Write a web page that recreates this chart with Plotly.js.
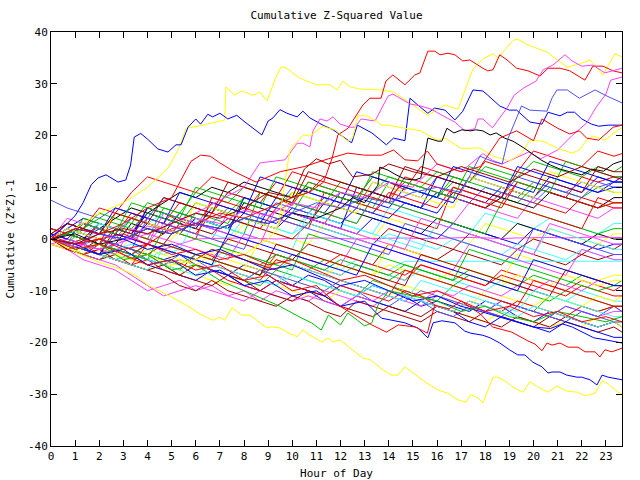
<!DOCTYPE html>
<html>
<head>
<meta charset="utf-8">
<script src="https://cdn.plot.ly/plotly-3.0.1.min.js"></script>
<style>html,body{margin:0;padding:0;background:#fff;}#chart{width:640px;height:480px;}</style>
</head>
<body>
<div id="chart"></div>
<script>
// ---- 40-minute grid used by the mid-band series ----
const grid = [0,0.667,1.333,2,2.667,3.333,4,4.667,5.333,6,6.667,7.333,8,8.667,9.333,10,10.667,11.333,12,12.667,13.333,14,14.667,15.333,16,16.667,17.333,18,18.667,19.333,20,20.667,21.333,22,22.667,23.333,23.667];
const xTickVals = [0,1,2,3,4,5,6,7,8,9,10,11,12,13,14,15,16,17,18,19,20,21,22,23];
const yTickVals = [-40,-30,-20,-10,0,10,20,30,40];

// ---- traced outlier series (hour, value) ----
const y1x = [0,1,2,3,4,4.85,5.3,5.6,6.1,7.2,7.25,7.6,7.9,8.37,8.66,8.95,9.3,9.53,9.7,10.3,10.73,11.0,11.56,11.85,12.1,12.4,12.8,13.67,14.2,14.88,15.62,16.33,16.87,17.49,17.9,18.32,18.52,19.15,19.35,19.73,20.56,21.1,21.4,21.9,22.34,22.88,23.37,23.667];
const y1v = [0,2,5,7,10,13.7,17.5,21.4,21.8,23.0,29.4,27.8,28.6,27.8,28.4,26.7,31,33.2,33.2,31.1,30.3,29.8,29.8,28.8,30.5,29.4,29.0,28.8,28.4,26.2,23.9,25.9,25.1,32.9,34.8,35.8,35.0,38.4,38.6,37.6,36.1,34.2,33.2,33.8,34.6,31.7,35.8,35.2];

const b1x = [0,0.33,0.67,1.0,1.33,1.67,1.95,2.28,2.78,3.1,3.3,3.45,3.72,4.0,4.43,4.85,5.18,5.39,5.68,6.0,6.2,6.5,6.7,7.0,7.33,7.7,8.04,8.74,9.0,9.2,9.49,9.78,10.2,10.44,10.73,11.27,11.69,11.98,12.46,12.7,13.3,13.9,14.2,14.67,14.88,15.2,15.62,15.9,16.33,16.74,17.07,17.49,17.9,18.1,18.6,19.0,19.3,19.85,20.35,20.6,21.1,21.4,21.7,22.0,22.4,22.7,23.1,23.667];
const b1v = [0.5,1.5,3,4.5,7,10.5,11.8,12.4,11.0,11.4,14.3,19.7,20.4,19.3,17.4,16.8,18.2,18.2,21.6,23.2,22.2,24.1,23.6,24.3,23.2,23.9,22.6,20.1,22.8,23.4,25.0,24.3,23.6,24.7,23.4,22.0,21.1,20.1,18.6,22.0,20.5,18.2,19.5,19.0,27.2,25.9,24.3,25.3,24.9,23.0,24.7,28.8,28.6,27.8,25.7,24.9,24.9,22.6,22.2,24.5,23.8,24.5,24.5,23.2,22.2,21.8,22.0,22.0];

const r1x = [0,1,2,3,4,5,6,7,8,9,10,10.7,11.3,11.65,11.89,12.31,12.72,12.93,13.22,13.68,13.88,14.17,14.67,15.08,15.29,15.62,15.91,16.12,16.45,16.74,17.07,17.36,17.9,18.1,18.32,18.6,18.9,19.3,19.77,20.27,20.6,21.1,21.5,22.13,22.46,22.88,23.29,23.667];
const r1v = [0.5,-1,0,1,-1,2,3,5,4,6,8,9,11,15.6,20.1,21.4,24.3,25.9,27.2,27.2,30.5,31.7,29.8,31.7,32.1,36.3,36.3,35.6,35.9,35.6,34.4,34.6,33.0,32.5,32.7,35.6,34.6,33.0,32.5,31.5,33.0,33.0,32.5,30.7,33.4,33.4,32.5,32.1];

const m1x = [0,2,4,6,8,8.66,9.7,9.99,10.2,10.44,10.73,10.86,11.15,11.44,11.69,11.98,12.4,12.6,12.85,13.43,13.97,14.17,14.67,14.88,15.33,15.75,16.33,16.74,17.15,17.57,17.7,17.9,18.3,18.9,19.2,19.6,20.1,20.4,20.8,21.3,21.6,22.0,22.46,22.96,23.667];
const m1v = [0,-2,1,5,10,14.7,15.3,17.2,18.5,18.5,17.8,20.9,23.2,22.8,23.6,22.2,21.6,21.6,23.2,22.8,27.6,28.0,26.7,26.1,25.7,25.1,23.6,22.6,20.9,21.3,23.2,23.2,21.5,25.3,27.8,29.2,30.5,32.7,33.6,35.6,34.4,33.4,33.6,32.1,33.0];

const m2x = [0,1,2,3,4,5,6,7,8,9,10,11,12,13,14,15,16,17,17.9,18.3,18.7,19.2,19.8,20.3,21,21.6,22.2,22.6,23.0,23.2,23.667];
const m2v = [0,-1.5,1,-0.5,2.5,1.5,4,3,5.5,4.5,7,6,9,8,11,10,14.5,13,16.5,15.2,14.5,15.5,16.8,15.5,17.2,20,22.4,25.5,28,30.7,31.3];

const y2x = [0,1,2,3,4,5,6,7,8,9,9.4,9.8,9.9,10.45,10.73,11.27,11.5,11.8,12.0,12.3,12.5,12.72,13.1,13.3,13.5,13.68,13.97,14.67,15.33,15.7,16.04,16.33,17.0,17.78,18.32,19.0,19.5,19.85,20.4,21.0,21.6,21.9,22.2,22.46,22.96,23.46,23.667];
const y2v = [0,-2,-1,-4,-3,-5,-4,-2,-3,0,2,13.7,17.2,20.1,19.9,21.8,21.4,21.1,20.1,18.9,19.5,23.8,23.8,23.2,22.8,22.0,22.0,21.4,20.9,19.9,19.1,19.5,17.5,17.6,16.0,15.1,16.5,19.1,18.9,17.5,16.6,17.2,19.1,19.9,19.1,20.9,21.5];

const k1x = [0,1,2,3,4,5,6,7,8,9,10,11,12,12.5,13.0,13.55,13.63,13.97,14.3,14.67,15.08,15.33,15.42,15.62,16.04,16.2,16.41,16.7,17.03,17.4,17.6,17.9,18.2,18.45,18.8,19.15,19.6,20.0,20.3,20.7,21.1,21.5,22.0,22.4,22.9,23.3,23.667];
const k1v = [0,1,-1,0,2,1,3,2,4,3,5,4,6,8,7,10.4,13.9,13.3,12.4,11.6,11.4,11.8,14.3,19.5,18.9,18.9,21.4,20.5,21.1,20.9,21.1,20.9,20.1,20.5,19.5,18.9,17.6,16.2,15.3,14.3,13.5,13.0,12.4,13.5,13.1,14.5,15.1];

const y3x = [0,1,2,3,3.5,4.0,5.0,5.8,6.1,6.5,6.7,7.0,7.2,7.5,7.9,8.25,8.95,9.15,9.49,9.82,10.2,10.44,10.73,11.23,11.48,11.69,11.98,12.4,12.93,13.26,13.68,14.1,14.38,14.67,15.0,15.5,16.04,16.45,16.87,17.2,17.4,17.7,17.9,18.32,18.52,18.81,19.15,19.56,19.85,20.18,20.6,20.97,21.38,21.84,22.13,22.55,22.84,23.09,23.5,23.667];
const y3v = [0,-2.5,-4.5,-6,-7,-8.9,-11.2,-13.3,-14.3,-15.3,-15.7,-15.1,-15.7,-13.3,-14.7,-14.7,-17.2,-17.0,-17.2,-18.1,-18.9,-17.6,-18.6,-19.9,-19.1,-19.9,-19.5,-21.1,-23.0,-23.4,-25.0,-26.3,-26.3,-24.7,-25.9,-27.6,-29.2,-29.8,-31.1,-31.5,-30.1,-30.7,-31.7,-26.7,-26.7,-27.4,-28.6,-29.6,-27.6,-28.6,-29.6,-28.4,-29.4,-29.6,-30.3,-29.8,-27.4,-28.0,-29.6,-29.9];

const b2x = [0,1,2,3,4,5,6,7,8,9,10,11,12,13,13.7,14.67,15.2,15.62,15.84,16.2,16.74,17.15,17.4,17.9,18.2,18.6,19.0,19.35,19.64,19.97,20.35,20.6,20.76,21.1,21.38,21.8,22.0,22.34,22.63,22.84,23.09,23.667];
const b2v = [0,-1,-3,-2,-5,-4,-7,-6,-9,-8,-11,-10,-13,-12,-15.3,-16.2,-17.2,-19.1,-16.2,-15.8,-16.2,-17.8,-18.2,-18.6,-19.1,-20.1,-21.4,-22.4,-22.4,-23.8,-24.7,-25.9,-25.7,-25.7,-26.3,-26.7,-26.7,-27.2,-28.2,-26.3,-26.7,-27.2];

const r2x = [0,1,2,3,4,5,6,7,8,9,10,11,12,13,14,15,16,17,17.8,18.3,19.1,19.4,19.77,20.06,20.35,20.56,20.76,21.1,21.43,21.84,22.13,22.55,22.75,22.96,23.25,23.667];
const r2v = [0,-1,0,-2,-1,-3,-2,-4,-3,-5,-4,-6,-8,-7,-9,-11,-10,-12,-14.5,-17,-18.0,-18.8,-19.7,-20.3,-21.6,-20.1,-20.5,-20.1,-20.9,-20.9,-21.8,-21.8,-22.8,-21.4,-21.8,-21.1];

const b3x = [0,1,2,3,4,5,6,7,8,9,10,11,12,13,14,15,16,17,17.8,18.5,19.3,20.0,20.7,21.2,21.6,22.0,22.5,23.0,23.667];
const b3v = [0,2,1,0,-2,-1,-3,-2,-4,-6,-5,-7,-9,-8,-10,-12,-11,-13,-14,-15,-16,-17,-17.3,-16.4,-17,-18,-19.1,-19.5,-20.1];

const g1x = [0,1,2,3,4,5,6,7,8,9.4,10.4,10.8,11.2,11.5,12.0,12.3,12.7,13.0,13.3,13.55,14,15,16,17,18,19,20,21,22,23,23.667];
const g1v = [0,-2,-1,-4,-3,-6,-5,-8,-10,-12.8,-15.3,-16.2,-17.6,-14.7,-16.6,-14.3,-15.7,-16.8,-16.2,-12.8,-10,-11,-12,-14,-13,-15,-16,-14,-15,-16,-15];

const r4x = [0,1,2,3,4,5,5.8,6.2,6.6,7,7.6,8.5,9.5,10.5,11.5,12.3,13,13.7,14.2,14.67,15.2,15.6,16,17,17.8,18.6,19.3,20,20.35,21,21.5,21.9,22.2,22.7,23.3,23.667];
const r4v = [0,2,1,3,6,8,15,16.2,16,14.7,13,11,13,14,15.5,16.6,16.2,16.2,17.2,15.3,15.1,17,14.5,13,14,19.5,20.9,19,23.2,21.4,20.3,20.9,19.5,19.1,21.6,22.0];

const lb1x = [0,1,2,3,4,5,6,7,8,9,10,11,12,13,14,15,16,17,17.78,18.3,18.7,18.95,19.3,19.5,19.85,20.56,20.76,20.97,21.4,21.9,22.55,23.05,23.667];
const lb1v = [0,-1,1,0,2,1,3,2,4,3,5,7,6,8,7,9,10,9,16,15,14.5,19.5,23.4,25.7,24.9,24.7,27.2,28.8,28.8,27.2,28.8,27.6,26.3];

const dr1x = [0,1,2,3,4,5,6,7,8,9,10,10.5,11,11.5,12,12.5,13.3,14,15,16,17,18,19,20,21,22,23,23.667];
const dr1v = [0,-1,1,2,1,3,5,4,6,9,8,13.5,15.5,14.5,15.2,12,12.5,14.5,13,12,14,12.5,11,13.5,12,14,12.5,11.5];

const r3x = [0,1,2,3,4,5,6,7,8,9,10,11,11.9,13.3,13.9,14.4,15.1,15.6,15.9,16.5,17,18,19,20,21,22,23,23.667];
const r3v = [0,-2,-1,-3,-5,-4,-6,-5,-8,-7,-10,-9,-12.8,-16.6,-18,-16.6,-17,-18.2,-12.8,-13.5,-12,-14,-13,-15,-14,-16,-15,-16];

// ---- mid-band series, values at each entry of `grid` ----
const a01 = [1,0,-1,3,2,1,6,5,3.5,2.5,7,6,5,9,8,6.5,11,10,9,8,12,11,9.5,14,13,12,11,15,14,13,17,16,15,14,17,16,16.5];
const a02 = [0,-1,2,1,0,4,3,2,1,5,4,3,8,7,6,5,10,9,8,7,6,11,10,9,8,12,11,10,9,8,11,10,9,8,10,9,9];
const a03 = [2,1,0,3,2,1,5,4,3,2,6,5,4,3,8,7,6,5,9,8,7,6,10,9,8,7,12,11,10,9,8,12,11,10,9,11,11];
const a04 = [-1,0,-1,-2,1,0,-1,3,2,1,0,5,4,3,2,7,6,5,4,3,8,7,6,5,4,3,7,6,5,4,8,7,6,5,4,6,6];
const a05 = [0,1,0,-1,2,1,0,-1,3,2,1,0,4,3,2,1,5,4,3,2,1,6,5,4,3,2,1,5,4,3,2,4,3,2,1,3,3];
const a06 = [1,0,-1,-2,1,0,-1,-2,2,1,0,-1,3,2,1,0,-1,3,2,1,0,4,3,2,1,0,-1,3,2,1,0,2,1,0,-1,1,1];
const a07 = [0,2,1,0,-1,3,2,1,5,4,3,2,7,6,5,4,3,7,6,5,4,3,2,1,4,3,2,1,0,3,2,1,0,-1,1,0,0];
const a08 = [0,-1,-2,0,-1,-2,-3,-1,-2,-3,-4,0,-1,-2,-3,-4,-1,-2,-3,-4,-5,-1,-2,-3,-4,-2,-3,-4,-5,-2,-3,-4,-5,-3,-4,-3,-3];
const a09 = [7.5,6,5,4,6,5,4,8,7,6,5,9,8,7,6,10,9,8,7,6,11,10,9,8,12,11,10,9,8,12,11,10,9,8,11,10,10];
const a10 = [-1,-2,-3,-1,-2,-4,-3,-5,-6,-3,-4,-5,-6,-7,-3,-4,-5,-6,-7,-5,-6,-7,-8,-5,-6,-7,-8,-9,-6,-7,-8,-9,-10,-8,-9,-10,-9];
const a11 = [0,-1,-3,-4,-2,-3,-4,-5,-7,-5,-6,-7,-8,-9,-6,-7,-8,-9,-10,-11,-8,-9,-10,-11,-12,-9,-10,-11,-12,-13,-14,-11,-12,-13,-14,-13,-13];
const a12 = [1,0,-1,-2,-1,-2,-3,-4,-3,-5,-6,-7,-5,-6,-8,-9,-7,-8,-10,-11,-9,-10,-11,-13,-12,-13,-14,-12,-13,-15,-16,-14,-15,-16,-17,-16,-17];
const a13 = [-1,-2,-4,-5,-6,-8,-10,-9,-8,-10,-9,-11,-10,-12,-10,-11,-12,-10,-11,-12,-13,-11,-12,-13,-11,-12,-13,-14,-12,-13,-14,-15,-13,-14,-15,-14,-14];
const a14 = [0,-1,-2,-1,-2,-3,-4,-2,-3,-4,-5,-3,-4,-5,-6,-4,-5,-6,-7,-5,-6,-7,-8,-6,-7,-8,-9,-10,-8,-9,-10,-11,-12,-10,-11,-12,-12];
const a15 = [0,-1,-2,-3,-4,-5,-6,-5,-6,-7,-8,-9,-7,-8,-9,-10,-11,-12,-10,-11,-12,-13,-14,-12,-13,-14,-15,-16,-14,-15,-16,-17,-16,-17,-15,-16,-17];
const a16 = [0,-1,-2,-3,-1,-2,-3,-4,-5,-3,-4,-5,-6,-7,-4,-5,-6,-4,-5,-6,-7,-8,-6,-7,-8,-9,-7,-8,-9,-10,-11,-12,-10,-11,-12,-13,-14];
const a17 = [0,-2,-3,-4,-3,-5,-6,-7,-9,-10,-8,-10,-11,-12,-13,-11,-12,-14,-15,-12,-13,-14,-15,-16,-14,-15,-16,-14,-15,-16,-17,-15,-16,-17,-18,-17,-18];
const a18 = [1,0,-1,0,-1,-2,-4,-5,-3,-4,-6,-7,-8,-6,-7,-9,-10,-11,-9,-10,-12,-13,-11,-12,-14,-15,-13,-14,-15,-13,-14,-15,-16,-14,-15,-16,-16];
const a19 = [2,1,0,3,2,1,4,3,2,1,5,4,3,2,6,5,4,3,7,6,5,9,8,7,6,10,9,8,7,11,10,9,8,12,11,12,12];
const a20 = [1,3,2,5,4,3,7,6,5,9,8,7,10,9,8,7,11,10,9,8,12,11,10,9,8,11,10,9,8,7,10,9,8,7,6,7,7];
const a21 = [0,2,4,3,2,1,5,4,3,2,6,5,4,3,2,5,4,3,2,1,4,3,2,1,0,3,2,1,0,-1,2,1,0,-1,-2,-1,-1];
const a22 = [0,-1,-2,-1,-2,-3,-1,-2,-1,0,0.1,0.2,0.2,0.1,0,0.1,0.2,0.2,0.1,0,0.1,0.2,0.2,0.1,0.1,0.2,0.3,0.2,0.1,0.2,0.3,0.3,0.2,0.3,0.4,0.3,0.3];
const a23 = [0,-1,0,-1,-2,-1,-2,-3,-2,-3,-4,-2,-3,-4,-5,-3,-4,-5,-6,-4,-5,-6,-4.3,-4.3,-4.3,-4.4,-4.4,-4.4,-4.4,-4.4,-4.4,-4.4,-4.4,-4.3,-4.3,-4.3,-4.3];
const a24 = [-1,-2,-3,-2,-3,-4,-5,-6,-4,-5,-6,-7,-8,-6,-7,-8,-9,-10,-8,-9,-10,-11,-9,-10,-11,-12,-13,-10,-11,-12,-13,-11,-12,-13,-11,-12,-11];
const a25 = [0,1,3,2,4,6,5,7,9,8,10,9,11,10,9,8,10,9,8,7,9,8,7,6,9,8,7,6,8,7,6,9,8,7,6,8,8];
const a26 = [0,1,0,-1,2,1,0,-1,3,2,1,4,3,2,1,0,3,2,1,0,-1,2,1,0,-1,-2,1,0,-1,-2,0,-1,-2,-3,-1,-2,-1];
const a27 = [0,-1,-2,-3,-2,-3,-4,-5,-4,-5,-6,-7,-8,-6,-7,-8,-9,-10,-8,-9,-10,-11,-12,-10,-11,-12,-13,-14,-12,-13,-14,-15,-13,-14,-15,-13,-14];
const a28 = [0,1,3,2,1,5,4,3,7,6,5,9,8,7,11,10,9,12,11,10,9,8,11,10,9,8,7,6,9,8,7,6,5,8,7,6,6];
const a29 = [0,-1,-2,-1,-2,-3,-1,-2,-3,-4,-2,-3,-4,-5,-3,-4,-5,-6,-4,-5,-6,-7,-5,-6,-7,-8,-6,-7,-8,-9,-7,-8,-9,-7,-8,-9,-8];
const a30 = [0,-1,-2,-3,-4,-3,-5,-6,-7,-8,-6,-7,-9,-10,-8,-9,-10,-12,-13,-11,-12,-13,-14,-12,-13,-14,-16,-17,-15,-16,-17,-18,-16,-17,-18,-19,-19];
const a31 = [0,-2,-3,-4,-5,-7,-9,-11,-10,-9,-10,-11,-12,-10,-11,-12,-11,-12,-13,-11,-12,-10,-11,-12,-10,-11,-9,-10,-11,-9,-10,-8,-9,-10,-8,-9,-9];
const a32 = [0,2,1,3,2,4,3,5,4,3,6,5,4,3,2,1,3,2,1,0,-1,1,0,-1,-2,0,-1,-2,-3,-1,-2,-3,-4,-2,-3,-4,-4];
const a33 = [0,-1,-3,-2,-3,-4,-2,-3,-4,-5,-3,-4,-5,-6,-4,-5,-6,-7,-5,-6,-7,-5,-6,-7,-8,-6,-7,-8,-9,-7,-8,-9,-7,-8,-9,-8,-8];
const a34 = [0,-2,-1,-3,-4,-5,-4,-6,-7,-5,-6,-8,-9,-10,-8,-9,-10,-11,-9,-10,-11,-12,-10,-11,-13,-14,-12,-13,-14,-12,-13,-14,-15,-13,-14,-13,-13];
const a35 = [0,1,2,4,3,2,5,4,3,7,6,5,8,7,6,9,8,7,11,10,9,12,11,10,13,12,11,14,13,12,15,14,13,12,14,13,14];
const a36 = [0,1,0,2,1,0,3,2,1,4,3,2,5,4,3,6,5,4,3,6,5,4,7,6,5,9,8,7,10,9,8,11,10,9,12,11,12];
const a37 = [0,-1,0,-1,-2,-3,-1,-2,-3,-4,-2,-3,-4,-5,-6,-3,-4,-5,-3,-4,-5,-6,-7,-5,-6,-7,-8,-9,-7,-8,-9,-10,-11,-9,-10,-11,-11];
const a38 = [0,-2,-3,-2,-4,-5,-6,-5,-7,-8,-9,-7,-8,-10,-11,-12,-10,-11,-13,-14,-15,-13,-14,-15,-13,-14,-15,-16,-17,-15,-16,-17,-15,-16,-17,-16,-16];
const a39 = [0,-1,-2,-3,-4,-3,-4,-5,-6,-7,-5,-6,-7,-8,-9,-7,-8,-9,-10,-11,-9,-10,-11,-12,-13,-14,-12,-13,-14,-15,-13,-14,-15,-16,-17,-16,-16];
const a40 = [0,1,3,2,1,4,3,2,5,4,3,6,5,4,7,6,5,8,7,6,5,8,7,6,9,8,7,10,9,8,7,10,9,11,10,11,11];
// larger-jump walks in the dense band
const c01 = [0,3,2,1,6,5,4,3,9,8,7,6,5,12,11,10,9,8,7,13,12,11,10,9,8,14,13,12,11,10,9,15,14,13,12,11,11];
const c02 = [0,-1,4,3,2,1,0,6,5,4,3,2,1,9,8,7,6,5,4,3,8,7,6,5,4,3,2,1,7,6,5,4,3,2,1,2,2];
const c03 = [2,1,0,-1,5,4,3,2,1,0,8,7,6,5,4,3,2,9,8,7,6,5,4,3,2,10,9,8,7,6,5,4,3,2,8,7,7];
const c04 = [0,-1,-2,3,2,1,0,-1,-2,4,3,2,1,0,-1,-2,5,4,3,2,1,0,-1,-2,3,2,1,0,-1,-2,-3,2,1,0,-1,-2,-2];
const c05 = [1,0,-1,-2,-3,2,1,0,-1,-2,-3,-4,1,0,-1,-2,-3,-4,-5,0,-1,-2,-3,-4,-5,-6,-1,-2,-3,-4,-5,-6,-7,-2,-3,-4,-4];
const c06 = [0,-1,-2,-3,-4,1,0,-1,-2,-3,-4,-5,-6,0,-1,-2,-3,-4,-5,-6,-7,-1,-2,-3,-4,-5,-6,-7,-8,-3,-4,-5,-6,-7,-8,-7,-7];
const c07 = [0,2,1,0,-1,-2,4,3,2,1,0,-1,-2,5,4,3,2,1,0,-1,-2,-3,3,2,1,0,-1,-2,-3,-4,2,1,0,-1,-2,-3,-3];
const c08 = [0,-1,-2,-3,2,1,0,-1,-2,-3,-4,-5,-6,-7,-1,-2,-3,-4,-5,-6,-7,-8,-9,-3,-4,-5,-6,-7,-8,-9,-10,-11,-6,-7,-8,-9,-9];
const c09 = [0,1,0,-1,-2,-3,-4,2,1,0,-1,-2,-3,-4,-5,-6,1,0,-1,-2,-3,-4,-5,-6,-7,-8,-2,-3,-4,-5,-6,-7,-8,-9,-10,-9,-9];
const c10 = [1,0,3,2,1,0,6,5,4,3,2,1,8,7,6,5,4,3,2,10,9,8,7,6,12,11,10,9,8,14,13,12,11,10,9,10,10];
const c11 = [0,-1,-2,-3,-4,-5,-1,-2,-3,-4,-5,-6,-7,-8,-4,-5,-6,-7,-8,-9,-10,-11,-6,-7,-8,-9,-10,-11,-12,-13,-8,-9,-10,-11,-12,-13,-13];
const c12 = [0,4,3,2,1,0,-1,5,4,3,2,1,0,-1,6,5,4,3,2,1,0,-1,-2,4,3,2,1,0,-1,-2,-3,3,2,1,0,-1,-1];
const c13 = [0,-1,-2,-3,-4,-5,-6,-2,-3,-4,-5,-6,-7,-8,-9,-5,-6,-7,-8,-9,-10,-11,-12,-8,-9,-10,-11,-12,-13,-14,-10,-11,-12,-13,-14,-15,-15];
const c14 = [0,2,1,0,5,4,3,2,1,7,6,5,4,3,2,9,8,7,6,5,11,10,9,8,7,6,12,11,10,9,8,13,12,11,10,9,9];
const c15 = [0,3,2,6,5,9,12,11,10,9,12,11,10,9,8,13,12,11,10,9,8,7,12,11,10,9,8,7,6,11,10,9,8,7,6,7,7];
const c16 = [0,-1,-2,-3,1,0,-1,-2,-3,-4,-5,1,0,-1,-2,-3,-4,-5,-6,-7,-1,-2,-3,-4,-5,-6,-7,-8,-9,-10,-4,-5,-6,-7,-8,-9,-9];
const c17 = [0,1,3,2,1,7,6,5,4,10,9,8,7,6,12,11,10,9,8,7,13,12,11,10,9,8,14,13,12,11,10,9,15,14,13,12,12];
const c18 = [1,3,2,1,5,4,3,8,7,6,5,11,10,9,8,7,13,12,11,10,9,8,14,13,12,11,10,9,8,13,12,11,10,9,14,13,13];

// ---- colours ----
const RED = '#ff0000', GREEN = '#00c000', BLUE = '#0000ff', MAG = '#ff40ff',
      CYAN = '#40ffff', YEL = '#ffff00', BLK = '#000000', DRED = '#a00000', LBLUE = '#5050ff';

const midSeries = [a01,a02,a03,a04,a05,a06,a07,a08,a09,a10,a11,a12,a13,a14,a15,a16,a17,a18,a19,a20,
                   a21,a22,a23,a24,a25,a26,a27,a28,a29,a30,a31,a32,a33,a34,a35,a36,a37,a38,a39,a40,
                   c01,c02,c03,c04,c05,c06,c07,c08,c09,c10,c11,c12,c13,c14,c15,c16,c17,c18];
const midColors = [RED,GREEN,BLUE,MAG,CYAN,YEL,BLK,DRED,LBLUE,RED,GREEN,BLUE,MAG,CYAN,YEL,GREEN,DRED,LBLUE,RED,GREEN,
                   BLUE,MAG,CYAN,YEL,BLK,DRED,LBLUE,RED,GREEN,BLUE,MAG,CYAN,YEL,RED,GREEN,BLUE,RED,DRED,CYAN,LBLUE,
                   BLUE,GREEN,RED,CYAN,MAG,YEL,LBLUE,DRED,GREEN,BLUE,RED,MAG,CYAN,YEL,RED,BLUE,GREEN,DRED];

const traced = [
  [y1x,y1v,YEL],[b1x,b1v,BLUE],[r1x,r1v,RED],[m1x,m1v,MAG],[m2x,m2v,MAG],[y2x,y2v,YEL],
  [k1x,k1v,BLK],[y3x,y3v,YEL],[b2x,b2v,BLUE],[r2x,r2v,RED],[b3x,b3v,BLUE],[g1x,g1v,GREEN],
  [r4x,r4v,RED],[lb1x,lb1v,LBLUE],[dr1x,dr1v,DRED],[r3x,r3v,RED]
];

const traces = [];
midSeries.forEach((s,i)=>traces.push({x:grid,y:s,type:'scatter',mode:'lines',
  line:{color:midColors[i],width:1},hoverinfo:'skip'}));
traced.forEach(t=>traces.push({x:t[0],y:t[1],type:'scatter',mode:'lines',
  line:{color:t[2],width:1},hoverinfo:'skip'}));

const FONT = 'DejaVu Sans Mono, monospace';
const layout = {
  width:640, height:480,
  margin:{l:51,r:18,t:32,b:34,pad:0},
  paper_bgcolor:'#ffffff', plot_bgcolor:'#ffffff',
  showlegend:false,
  font:{family:FONT,size:11,color:'#000'},
  title:{text:'Cumulative Z-Squared Value',x:0.5,xref:'paper',xanchor:'center',
         y:1-15/480,yref:'container',yanchor:'middle',font:{family:FONT,size:11,color:'#000'}},
  xaxis:{range:[0,23.667],tickmode:'array',tickvals:xTickVals,ticktext:xTickVals.map(String),
         ticks:'inside',ticklen:6,tickwidth:1,tickcolor:'#000',showline:true,linecolor:'#000',linewidth:1,
         mirror:'ticks',showgrid:false,zeroline:false,tickfont:{family:FONT,size:11,color:'#000'},
         title:{text:'Hour of Day',font:{family:FONT,size:11,color:'#000'},standoff:7},automargin:false},
  yaxis:{range:[-40,40],tickmode:'array',tickvals:yTickVals,ticktext:yTickVals.map(String),
         ticks:'inside',ticklen:6,tickwidth:1,tickcolor:'#000',showline:true,linecolor:'#000',linewidth:1,
         mirror:'ticks',showgrid:false,zeroline:false,tickfont:{family:FONT,size:11,color:'#000'},
         title:{text:'Cumulative (Z*Z)-1',font:{family:FONT,size:11,color:'#000'},standoff:11},automargin:false}
};
Plotly.newPlot('chart',traces,layout,{staticPlot:true,displayModeBar:false});
</script>
</body>
</html>
